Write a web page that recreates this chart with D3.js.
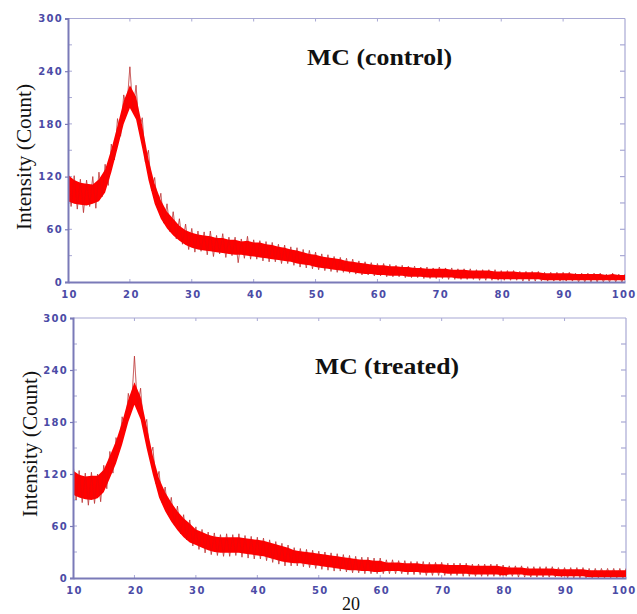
<!DOCTYPE html>
<html><head><meta charset="utf-8">
<script src="https://cdn.jsdelivr.net/npm/d3@7"></script>
<style>body{margin:0;background:#fff;overflow:hidden}</style></head>
<body><svg id="chart" width="637" height="614"></svg>
<script>
// ---- data ----
const xTickValues = [10, 20, 30, 40, 50, 60, 70, 80, 90, 100];
const yTickValues = [0, 60, 120, 180, 240, 300];
const bandAngles = d3.range(10, 100.5, 1);     // 2θ grid of the band arrays
const traceAngles = d3.range(10, 100.25, 0.5); // 2θ grid of the noise traces

const controlUpper = [
  122,116,113,112,111,117,128,151,178,206,
  224,211,178,140,112,93,80,72,64,59,
  56,54,53,52,50,50,48,48,46,47,
  45,45,43,42,40,39,37,36,34,32,
  31,29,28,27,26,24,23,22,21,20,
  19,19,18,18,17,17,16,16,15,15,
  15,15,14,14,14,13,13,13,13,12,
  12,12,12,11,11,11,11,10,10,10,
  10,10,9,9,9,9,9,8,9,8,
  8];
const controlLower = [
  92,89,88,87,89,92,102,125,152,180,
  198,185,152,116,89,72,61,53,47,42,
  39,37,36,35,34,33,32,31,31,30,
  29,28,27,26,25,24,23,21,20,19,
  17,16,15,14,13,12,11,10,9,9,
  8,8,7,7,7,6,6,6,5,5,
  5,5,5,4,4,4,4,4,4,3,
  3,3,3,3,3,3,3,2,2,2,
  2,2,2,2,2,2,2,2,2,2,
  2];
const controlTrace = [
  128,86,121,83,117,79,116,86,120,84,
  125,97,134,110,157,139,186,166,213,198,
  245,194,224,174,187,137,150,104,119,84,
  101,67,89,57,80,49,72,43,66,37,
  61,34,58,35,57,31,58,29,53,32,
  55,28,51,30,51,22,49,27,52,26,
  48,26,47,24,46,23,45,23,43,21,
  42,21,40,19,39,17,37,16,36,15,
  34,14,32,13,31,12,29,11,28,11,
  27,10,26,9,24,8,23,8,22,7,
  21,7,21,6,20,6,19,6,19,5,
  18,5,18,5,17,4,17,4,16,4,
  17,4,16,3,16,3,15,3,15,3,
  15,3,14,2,14,2,14,2,14,2,
  13,2,13,2,13,2,12,1,12,1,
  12,1,12,1,11,1,11,1,11,1,
  11,1,11,1,10,0,10,0,10,0,
  10,0,10,0,9,0,10,0,9,0,
  9];

const treatedUpper = [
  124,119,117,118,118,125,141,158,180,206,
  226,209,175,141,115,99,87,77,69,63,
  56,53,50,48,47,47,47,47,46,45,
  44,43,41,39,37,35,32,31,30,29,
  28,27,26,25,24,23,22,21,21,20,
  20,18,18,18,17,17,17,16,16,16,
  16,15,15,15,15,14,14,14,14,14,
  13,12,12,12,11,11,11,11,11,10,
  10,10,10,10,9,9,9,9,9,9,
  9];
const treatedLower = [
  96,93,91,90,92,99,115,132,154,180,
  200,183,149,119,93,77,65,55,47,41,
  38,35,32,30,29,29,29,29,28,27,
  26,25,23,21,19,18,17,17,16,15,
  14,13,12,11,10,9,9,8,8,7,
  7,8,8,8,7,7,7,6,6,6,
  6,5,5,5,5,4,4,4,4,4,
  3,4,4,4,3,3,3,3,3,2,
  2,2,2,2,1,1,1,1,1,1,
  1];
const treatedTrace = [
  134,90,124,87,121,84,122,86,120,88,
  130,103,146,121,162,149,186,170,213,196,
  256,197,219,171,183,139,151,109,123,87,
  105,73,93,61,83,51,73,44,67,37,
  59,33,56,29,53,27,52,26,50,25,
  51,25,50,26,51,24,49,23,48,22,
  47,22,46,20,44,18,42,16,40,14,
  38,14,35,14,34,13,33,12,32,11,
  31,10,30,9,29,8,28,8,27,7,
  26,6,25,6,24,5,24,5,23,5,
  23,5,21,5,21,5,20,5,20,4,
  19,4,19,4,19,3,18,3,18,3,
  18,3,17,3,17,3,17,2,17,2,
  16,2,16,2,16,2,16,2,16,2,
  15,2,14,2,14,1,14,1,13,1,
  13,1,13,1,13,1,13,1,12,1,
  12,0,12,0,12,0,12,0,11,0,
  11,0,11,0,11,0,11,0,11,0,
  11];

const panelTitles = ["MC (control)", "MC (treated)"];
const yAxisTitle = "Intensity (Count)";
const xAxisTitle = "20";

// ---- layout ----
const panels = [
  {title: panelTitles[0], upper: controlUpper, lower: controlLower, trace: controlTrace,
   left: 68, right: 625, top: 18.5, bottom: 282,
   titleX: 307, titleY: 65, titleLen: 145, titleSize: 23,
   yTitleX: 31, yTitleY: 157, xLabY: 299},
  {title: panelTitles[1], upper: treatedUpper, lower: treatedLower, trace: treatedTrace,
   left: 73, right: 626, top: 318, bottom: 578,
   titleX: 315, titleY: 374, titleLen: 144, titleSize: 24,
   yTitleX: 37, yTitleY: 444, xLabY: 595}
];

const svg = d3.select("#chart");
const axisDark = "#7a7ab8", axisLight = "#a8a8d4", labelColor = "#4b4ba6";

panels.forEach((p, i) => {
  const x = d3.scaleLinear().domain([10, 100]).range([p.left, p.right]);
  const y = d3.scaleLinear().domain([0, 300]).range([p.bottom, p.top]);
  const g = svg.append("g");

  const clipId = "clip" + i;
  svg.append("clipPath").attr("id", clipId).append("rect")
    .attr("x", p.left).attr("y", p.top - 2)
    .attr("width", p.right - p.left).attr("height", p.bottom - p.top + 2);

  // frame
  g.append("line").attr("x1", p.left).attr("x2", p.right).attr("y1", p.top).attr("y2", p.top)
    .attr("stroke", axisLight).attr("stroke-width", 1.2);
  g.append("line").attr("x1", p.right).attr("x2", p.right).attr("y1", p.top).attr("y2", p.bottom)
    .attr("stroke", axisLight).attr("stroke-width", 1.2);

  // minor ticks on all sides
  const yMinor = d3.range(30, 300, 30);
  g.selectAll(null).data(yMinor).join("line")
    .attr("x1", p.right - 5).attr("x2", p.right).attr("y1", d => y(d)).attr("y2", d => y(d))
    .attr("stroke", axisLight).attr("stroke-width", 1.2);
  g.selectAll(null).data(yMinor).join("line")
    .attr("x1", p.left).attr("x2", p.left + 4).attr("y1", d => y(d)).attr("y2", d => y(d))
    .attr("stroke", axisLight).attr("stroke-width", 1);
  g.selectAll(null).data(xTickValues.slice(1, -1)).join("line")
    .attr("x1", d => x(d)).attr("x2", d => x(d)).attr("y1", p.top).attr("y2", p.top + 3)
    .attr("stroke", axisLight).attr("stroke-width", 1);
  g.selectAll(null).data(xTickValues.slice(1, -1)).join("line")
    .attr("x1", d => x(d)).attr("x2", d => x(d)).attr("y1", p.bottom - 3).attr("y2", p.bottom)
    .attr("stroke", axisLight).attr("stroke-width", 1);

  // data: noise trace beneath, band, then faint trace over it for texture
  const plot = g.append("g").attr("clip-path", `url(#${clipId})`);
  const traceData = traceAngles.map((a, k) => ({a, v: p.trace[k]}));
  const traceLine = d3.line().x(d => x(d.a)).y(d => y(d.v));
  plot.append("path").datum(traceData)
    .attr("d", traceLine)
    .attr("fill", "none").attr("stroke", "#b83a3a").attr("stroke-width", 0.8).attr("stroke-opacity", 0.85);
  const bandData = bandAngles.map((a, k) => ({a, hi: p.upper[k], lo: p.lower[k]}));
  plot.append("path").datum(bandData)
    .attr("d", d3.area().x(d => x(d.a)).y0(d => y(d.lo)).y1(d => y(d.hi)))
    .attr("fill", "#ff0000");
  plot.append("path").datum(traceData)
    .attr("d", traceLine)
    .attr("fill", "none").attr("stroke", "#c01818").attr("stroke-width", 0.6).attr("stroke-opacity", 0.35);

  // left and bottom axes
  const yAxis = d3.axisLeft(y).tickValues(yTickValues).tickSize(3).tickPadding(2).tickFormat(d3.format("d"));
  const xAxis = d3.axisBottom(x).tickValues(xTickValues).tickSize(0).tickPadding(8).tickFormat(d3.format("d"));
  const ya = g.append("g").attr("transform", `translate(${p.left},0)`).call(yAxis);
  const xa = g.append("g").attr("transform", `translate(0,${p.bottom})`).call(xAxis);
  [ya, xa].forEach(a => {
    a.select(".domain").attr("stroke", axisDark).attr("stroke-width", 2);
    a.selectAll(".tick line").attr("stroke", axisDark).attr("stroke-width", 1.2);
    a.selectAll("text").attr("fill", labelColor).attr("font-family", "DejaVu Sans")
      .attr("font-weight", "bold").attr("font-size", 10).attr("letter-spacing", 1.3);
  });
  xa.selectAll("text").attr("dx", 1).attr("dy", "0.5em").attr("y", p.xLabY - p.bottom - 6);
  // keep the last label ("100") inside the window
  xa.selectAll(".tick").filter(d => d === 100).select("text")
    .attr("text-anchor", "end").attr("dx", 636 - p.right);

  // titles
  g.append("text").attr("x", p.titleX).attr("y", p.titleY)
    .attr("font-family", "Liberation Serif").attr("font-weight", "bold")
    .attr("font-size", p.titleSize).attr("textLength", p.titleLen)
    .attr("lengthAdjust", "spacingAndGlyphs").attr("fill", "#111").text(p.title);
  g.append("text")
    .attr("transform", `translate(${p.yTitleX},${p.yTitleY}) rotate(-90)`)
    .attr("text-anchor", "middle")
    .attr("font-family", "Liberation Serif").attr("font-size", 21)
    .attr("textLength", 146).attr("lengthAdjust", "spacingAndGlyphs")
    .attr("fill", "#111").text(yAxisTitle);
});

svg.append("text").attr("x", 351).attr("y", 610).attr("text-anchor", "middle")
  .attr("font-family", "Liberation Serif").attr("font-size", 18).attr("fill", "#111")
  .text(xAxisTitle);
</script>
</body></html>
